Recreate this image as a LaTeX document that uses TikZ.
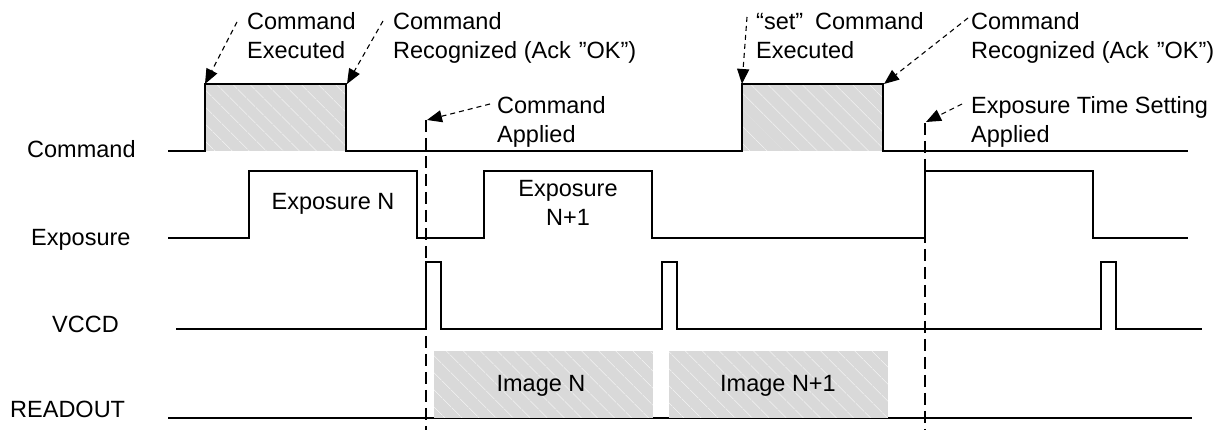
\documentclass[tikz,border=0pt]{standalone}
\usepackage{fontspec}
\setmainfont{Liberation Sans}
\usetikzlibrary{arrows.meta,patterns.meta}
\begin{document}
\begin{tikzpicture}[x=1pt,y=1pt,
  every node/.style={font=\fontsize{23.5}{29}\selectfont, inner sep=0pt},
  sig/.style={line width=1.4pt, line join=miter},
  hatchbox/.style={fill=black!15},
  hatchlines/.style={pattern={Lines[angle=-45,distance=13pt,line width=0.4pt]}, pattern color=white},
  callout/.style={dashed, dash pattern=on 5pt off 4pt, line width=1.1pt, -{Triangle[length=15pt,width=12pt]}},
  marker/.style={line width=1.4pt, dash pattern=on 12pt off 6pt},
  lbl/.style={anchor=base west},
  txt/.style={anchor=north west, align=left}]
\useasboundingbox (0,0) rectangle (1225,430);

% signal labels
\node[lbl] (lcmd) at (27,272) {Command};
\node[lbl] (lexp) at (31,184) {Exposure};
\node[lbl] (lvccd) at (52,97) {VCCD};
\node[lbl] (lread) at (10,12) {READOUT};

% command boxes
\fill[hatchbox] (205,279) rectangle (346,346);
\fill[hatchlines] (205,279) rectangle (346,346);
\fill[hatchbox] (742,279) rectangle (883,346);
\fill[hatchlines] (742,279) rectangle (883,346);

% command signal
\draw[sig] (168,279) -- (205,279) -- (205,346) -- (346,346) -- (346,279)
  -- (742,279) -- (742,346) -- (883,346) -- (883,279) -- (1188,279);

% exposure signal
\draw[sig] (168,192) -- (249,192) -- (249,259) -- (417,259) -- (417,192)
  -- (484,192) -- (484,259) -- (652,259) -- (652,192) -- (925,192)
  -- (925,259) -- (1093,259) -- (1093,192) -- (1188,192);

% VCCD signal
\draw[sig] (176,101) -- (426,101) -- (426,168) -- (441,168) -- (441,101)
  -- (662,101) -- (662,168) -- (677,168) -- (677,101) -- (1101,101)
  -- (1101,168) -- (1116,168) -- (1116,101) -- (1202,101);

% readout
\draw[sig] (168,12) -- (1192,12);
\fill[hatchbox] (434,12) rectangle (653,79);
\fill[hatchlines] (434,12) rectangle (653,79);
\fill[hatchbox] (669,12) rectangle (888,79);
\fill[hatchlines] (669,12) rectangle (888,79);

% texts inside
\node[anchor=base] (expn) at (333,220) {Exposure N};
\node[anchor=north, align=center] (expn1) at (568,250) {Exposure\\N+1};
\node[anchor=base] (imgn) at (541,38) {Image N};
\node[anchor=base] (imgn1) at (778,38) {Image N+1};

% vertical markers
\coordinate (m1top) at (426,310);
\coordinate (m1bot) at (426,0);
\coordinate (m2top) at (925,307);
\coordinate (m2bot) at (925,0);
\draw[marker] (m1top) -- (m1bot);
\draw[marker] (m2top) -- (m2bot);

% callout texts
\node[txt] (t1) at (247,418) {Command\\Executed};
\node[txt] (t2) at (393,418) {Command\\Recognized (Ack\hspace{8pt}”OK”)};
\node[txt] (t3) at (497,334) {Command\\Applied};
\node[txt] (t4) at (756,418) {“set”\hspace{12pt}Command\\Executed};
\node[txt] (t5) at (971,418) {Command\\Recognized (Ack\hspace{8pt}”OK”)};
\node[txt] (t6) at (971,334) {Exposure Time Setting\\Applied};

% callout arrows
\coordinate (a1s) at (237,408); \coordinate (a1e) at (205,346);
\coordinate (a2s) at (383,409); \coordinate (a2e) at (347,346);
\coordinate (a3s) at (490,326); \coordinate (a3e) at (427,310);
\coordinate (a4s) at (747,413); \coordinate (a4e) at (742,346);
\coordinate (a5s) at (968,412); \coordinate (a5e) at (884,346);
\coordinate (a6s) at (962,326); \coordinate (a6e) at (926,308);
\draw[callout] (a1s) -- (a1e);
\draw[callout] (a2s) -- (a2e);
\draw[callout] (a3s) -- (a3e);
\draw[callout] (a4s) -- (a4e);
\draw[callout] (a5s) -- (a5e);
\draw[callout] (a6s) -- (a6e);
\end{tikzpicture}
\end{document}
